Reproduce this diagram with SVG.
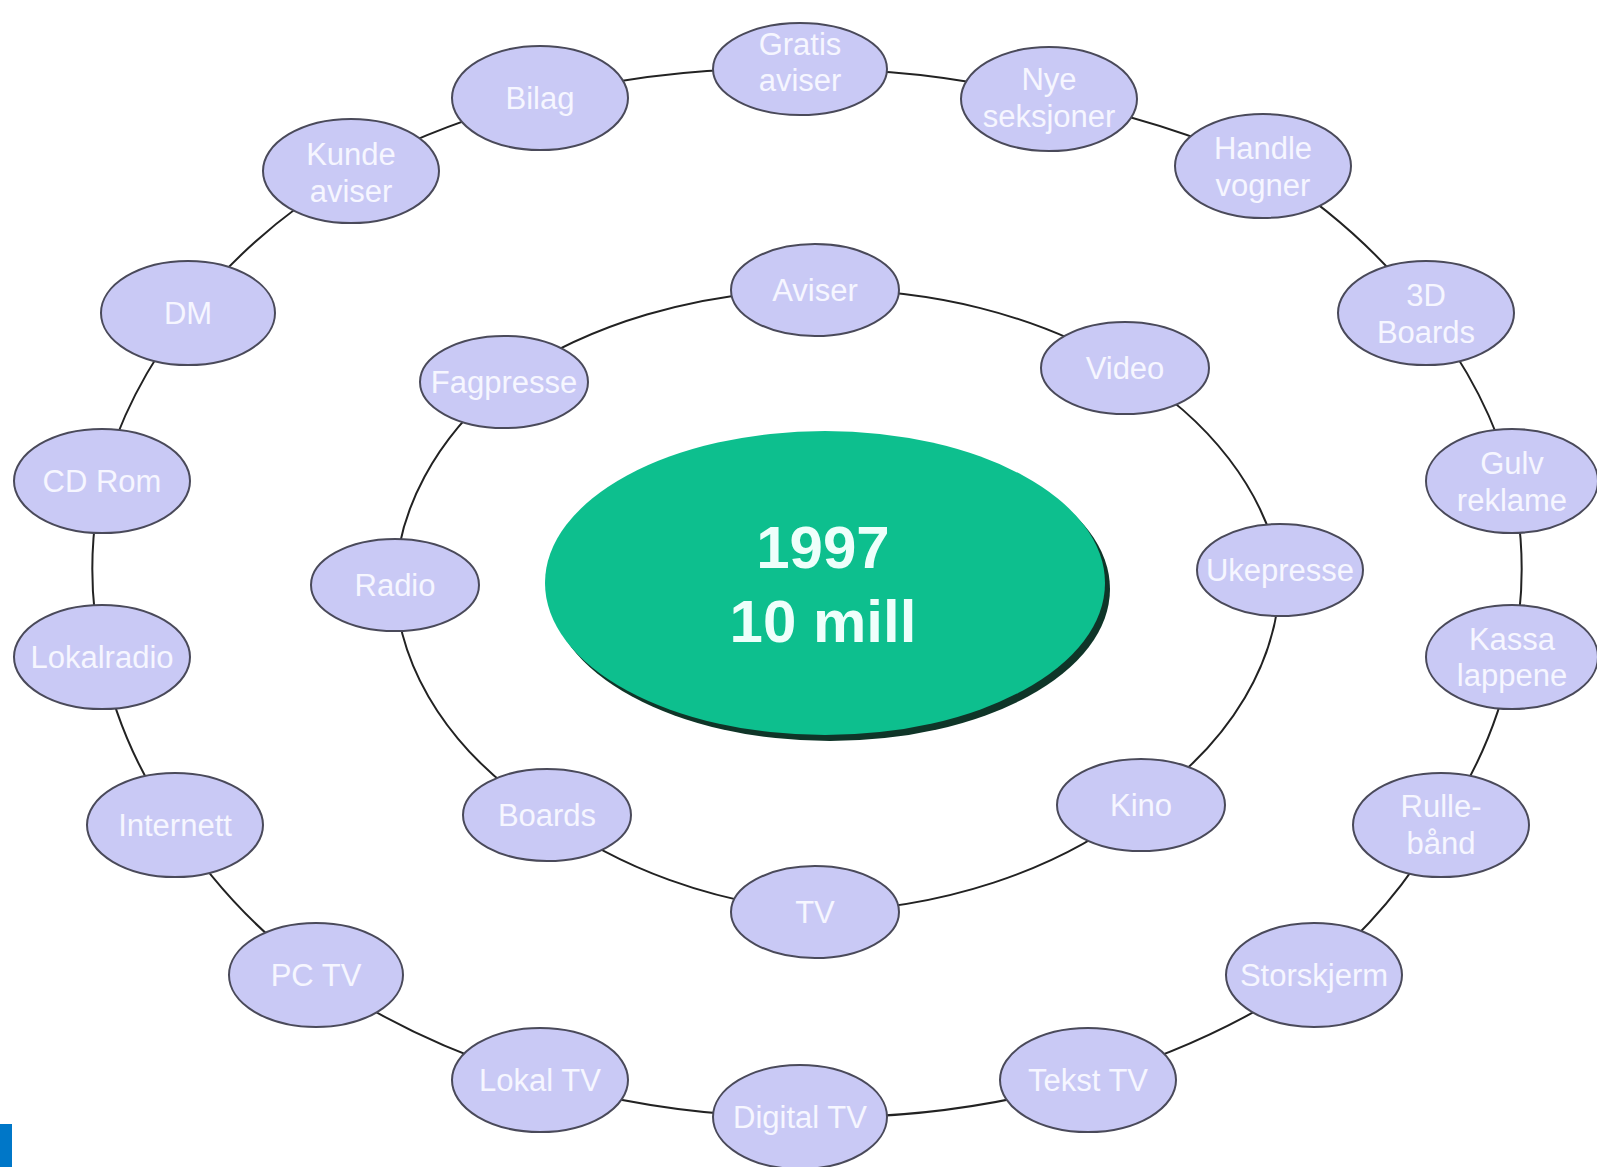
<svg xmlns="http://www.w3.org/2000/svg" width="1597" height="1167" viewBox="0 0 1597 1167">
<style>
.bg{fill:#ffffff}
.con{fill:none;stroke:#222;stroke-width:2}
.node ellipse{fill:#c9c9f5;stroke:#4a4a5a;stroke-width:2}
.node text{font-family:"Liberation Sans",Arial,sans-serif;font-size:31px;fill:#f6f6ff;text-anchor:middle}
.center text{font-family:"Liberation Sans",Arial,sans-serif;font-size:60px;font-weight:bold;fill:#eefffb;text-anchor:middle}
</style>
<rect class="bg" x="0" y="0" width="1597" height="1167"/>
<g id="connectors">
<path class="con" d="M800 69 A720 540 0 0 1 1049 99"/>
<path class="con" d="M1049 99 A720 540 0 0 1 1263 166"/>
<path class="con" d="M1263 166 A720 540 0 0 1 1426 313"/>
<path class="con" d="M1426 313 A720 540 0 0 1 1512 481"/>
<path class="con" d="M1512 481 A720 540 0 0 1 1512 657"/>
<path class="con" d="M1512 657 A720 540 0 0 1 1441 825"/>
<path class="con" d="M1441 825 A720 540 0 0 1 1314 975"/>
<path class="con" d="M1314 975 A720 540 0 0 1 1088 1080"/>
<path class="con" d="M1088 1080 A720 540 0 0 1 800 1117"/>
<path class="con" d="M800 1117 A720 540 0 0 1 540 1080"/>
<path class="con" d="M540 1080 A720 540 0 0 1 316 975"/>
<path class="con" d="M316 975 A720 540 0 0 1 175 825"/>
<path class="con" d="M175 825 A720 540 0 0 1 102 657"/>
<path class="con" d="M102 657 A720 540 0 0 1 102 481"/>
<path class="con" d="M102 481 A720 540 0 0 1 188 313"/>
<path class="con" d="M188 313 A720 540 0 0 1 351 171"/>
<path class="con" d="M351 171 A720 540 0 0 1 540 98"/>
<path class="con" d="M540 98 A720 540 0 0 1 800 69"/>
<path class="con" d="M815 290 A450 320 0 0 1 1125 368"/>
<path class="con" d="M1125 368 A450 320 0 0 1 1280 570"/>
<path class="con" d="M1280 570 A450 320 0 0 1 1141 805"/>
<path class="con" d="M1141 805 A450 320 0 0 1 815 912"/>
<path class="con" d="M815 912 A450 320 0 0 1 547 815"/>
<path class="con" d="M547 815 A450 320 0 0 1 395 585"/>
<path class="con" d="M395 585 A450 320 0 0 1 504 382"/>
<path class="con" d="M504 382 A450 320 0 0 1 815 290"/>
</g>
<g id="center" class="center">
<ellipse cx="830" cy="589" rx="280" ry="152" fill="#0f3528"/>
<ellipse cx="825" cy="583" rx="280" ry="152" fill="#0dbf8e"/>
<text x="823" y="568">1997</text>
<text x="823" y="642">10 mill</text>
</g>
<g id="n-gratis" class="node"><ellipse cx="800" cy="69" rx="87" ry="46"/><text x="800" y="55">Gratis</text><text x="800" y="91">aviser</text></g>
<g id="n-nye" class="node"><ellipse cx="1049" cy="99" rx="88" ry="52"/><text x="1049" y="90">Nye</text><text x="1049" y="127">seksjoner</text></g>
<g id="n-handle" class="node"><ellipse cx="1263" cy="166" rx="88" ry="52"/><text x="1263" y="159">Handle</text><text x="1263" y="196">vogner</text></g>
<g id="n-3d" class="node"><ellipse cx="1426" cy="313" rx="88" ry="52"/><text x="1426" y="306">3D</text><text x="1426" y="343">Boards</text></g>
<g id="n-gulv" class="node"><ellipse cx="1512" cy="481" rx="86" ry="52"/><text x="1512" y="474">Gulv</text><text x="1512" y="511">reklame</text></g>
<g id="n-kassa" class="node"><ellipse cx="1512" cy="657" rx="86" ry="52"/><text x="1512" y="650">Kassa</text><text x="1512" y="686">lappene</text></g>
<g id="n-rulle" class="node"><ellipse cx="1441" cy="825" rx="88" ry="52"/><text x="1441" y="817">Rulle-</text><text x="1441" y="854">bånd</text></g>
<g id="n-storskjerm" class="node"><ellipse cx="1314" cy="975" rx="88" ry="52"/><text x="1314" y="986">Storskjerm</text></g>
<g id="n-tekst" class="node"><ellipse cx="1088" cy="1080" rx="88" ry="52"/><text x="1088" y="1091">Tekst TV</text></g>
<g id="n-digital" class="node"><ellipse cx="800" cy="1117" rx="87" ry="52"/><text x="800" y="1128">Digital TV</text></g>
<g id="n-lokaltv" class="node"><ellipse cx="540" cy="1080" rx="88" ry="52"/><text x="540" y="1091">Lokal TV</text></g>
<g id="n-pctv" class="node"><ellipse cx="316" cy="975" rx="87" ry="52"/><text x="316" y="986">PC TV</text></g>
<g id="n-internett" class="node"><ellipse cx="175" cy="825" rx="88" ry="52"/><text x="175" y="836">Internett</text></g>
<g id="n-lokalradio" class="node"><ellipse cx="102" cy="657" rx="88" ry="52"/><text x="102" y="668">Lokalradio</text></g>
<g id="n-cdrom" class="node"><ellipse cx="102" cy="481" rx="88" ry="52"/><text x="102" y="492">CD Rom</text></g>
<g id="n-dm" class="node"><ellipse cx="188" cy="313" rx="87" ry="52"/><text x="188" y="324">DM</text></g>
<g id="n-kunde" class="node"><ellipse cx="351" cy="171" rx="88" ry="52"/><text x="351" y="165">Kunde</text><text x="351" y="202">aviser</text></g>
<g id="n-bilag" class="node"><ellipse cx="540" cy="98" rx="88" ry="52"/><text x="540" y="109">Bilag</text></g>
<g id="n-aviser" class="node"><ellipse cx="815" cy="290" rx="84" ry="46"/><text x="815" y="301">Aviser</text></g>
<g id="n-video" class="node"><ellipse cx="1125" cy="368" rx="84" ry="46"/><text x="1125" y="379">Video</text></g>
<g id="n-ukepresse" class="node"><ellipse cx="1280" cy="570" rx="83" ry="46"/><text x="1280" y="581">Ukepresse</text></g>
<g id="n-kino" class="node"><ellipse cx="1141" cy="805" rx="84" ry="46"/><text x="1141" y="816">Kino</text></g>
<g id="n-tv" class="node"><ellipse cx="815" cy="912" rx="84" ry="46"/><text x="815" y="923">TV</text></g>
<g id="n-boards" class="node"><ellipse cx="547" cy="815" rx="84" ry="46"/><text x="547" y="826">Boards</text></g>
<g id="n-radio" class="node"><ellipse cx="395" cy="585" rx="84" ry="46"/><text x="395" y="596">Radio</text></g>
<g id="n-fagpresse" class="node"><ellipse cx="504" cy="382" rx="84" ry="46"/><text x="504" y="393">Fagpresse</text></g>
<rect x="0" y="1124" width="12" height="43" fill="#0077c8"/>
</svg>
